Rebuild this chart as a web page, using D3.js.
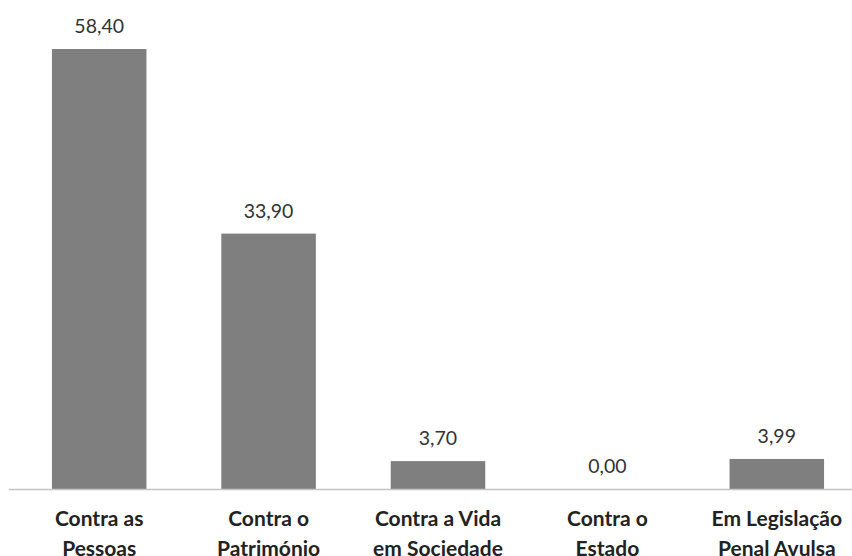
<!DOCTYPE html>
<html>
<head>
<meta charset="utf-8">
<script src="https://cdn.jsdelivr.net/npm/d3@7"></script>
<style>
  html, body { margin: 0; padding: 0; background: #fff; }
  svg { display: block; }
</style>
</head>
<body>
<svg id="chart" width="852" height="556"></svg>
<script>
const categories = [
  ["Contra as", "Pessoas"],
  ["Contra o", "Património"],
  ["Contra a Vida", "em Sociedade"],
  ["Contra o", "Estado"],
  ["Em Legislação", "Penal Avulsa"]
];
const values = [58.40, 33.90, 3.70, 0.00, 3.99];

const svg = d3.select("#chart");
const W = 852, H = 556;
const baseY = 489;

const x = d3.scaleBand()
  .domain(d3.range(categories.length))
  .range([14.5, 861.5])
  .paddingInner(0.442)
  .paddingOuter(0.221);

const y = d3.scaleLinear()
  .domain([0, 60])
  .range([baseY, baseY - 60 * 7.534]);

const fmt = d3.formatLocale({decimal: ",", thousands: ".", grouping: [3], currency: ["", "€"]}).format(".2f");

// bars
svg.append("g").selectAll("rect")
  .data(values)
  .join("rect")
  .attr("x", (d, i) => x(i))
  .attr("y", d => y(d))
  .attr("width", x.bandwidth())
  .attr("height", d => y(0) - y(d))
  .attr("fill", "#7f7f7f");

// axis line
svg.append("line")
  .attr("x1", 9).attr("x2", W)
  .attr("y1", baseY + 0.5).attr("y2", baseY + 0.5)
  .attr("stroke", "#c4c4c4")
  .attr("stroke-width", 1.5);

// value labels
svg.append("g").selectAll("text")
  .data(values)
  .join("text")
  .attr("x", (d, i) => x(i) + x.bandwidth() / 2)
  .attr("y", d => y(d) - 16)
  .attr("text-anchor", "middle")
  .attr("font-family", "Lato, 'Open Sans', sans-serif")
  .attr("font-size", 19.5)
  .attr("fill", "#333")
  .text(d => fmt(d));

// category labels
const cat = svg.append("g").selectAll("text")
  .data(categories)
  .join("text")
  .attr("x", (d, i) => x(i) + x.bandwidth() / 2)
  .attr("y", 526)
  .attr("text-anchor", "middle")
  .attr("font-family", "Lato, 'Open Sans', sans-serif")
  .attr("font-weight", "bold")
  .attr("font-size", 21)
  .attr("fill", "#222");
cat.selectAll("tspan")
  .data(d => d)
  .join("tspan")
  .attr("x", function() { return d3.select(this.parentNode).attr("x"); })
  .attr("dy", (d, i) => i === 0 ? 0 : 30)
  .text(d => d);
</script>
</body>
</html>
